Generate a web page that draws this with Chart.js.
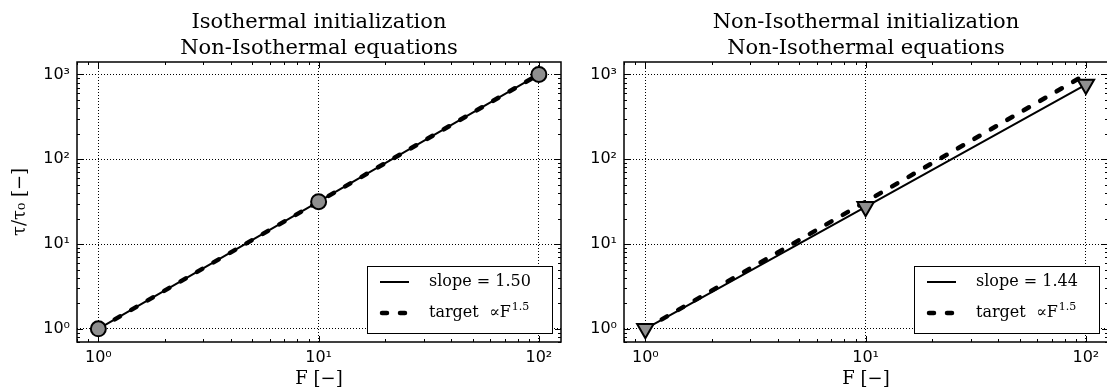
<!DOCTYPE html>
<html>
<head>
<meta charset="utf-8">
<script src="https://cdn.jsdelivr.net/npm/chart.js@4.4.1/dist/chart.umd.min.js"></script>
<style>
html, body { margin: 0; padding: 0; background: #fff; overflow: hidden; }
#wrap { position: relative; width: 1107px; height: 390px; overflow: hidden; }
canvas { position: absolute; top: 0; }
#left { left: 0; }
#right { left: 547px; }
</style>
</head>
<body>
<div id="wrap">
  <canvas id="left" width="580" height="390"></canvas>
  <canvas id="right" width="580" height="390"></canvas>
</div>
<script>
// data
const fValues = [1, 10, 100];
const isoMeasured = [1, 31.6, 1000];
const isoFit = [1, 31.6, 1000];
const isoTarget = [1, 31.6, 1000];
const nonIsoMeasured = [1, 27.5, 760];
const nonIsoFit = [1, 27.5, 760];
const nonIsoTarget = [1, 31.6, 1000];

const xTicks = [1, 10, 100];
const yTicks = [1, 10, 100, 1000];
const xTickLabels = ['10⁰', '10¹', '10²'];
const yTickLabels = ['10⁰', '10¹', '10²', '10³'];

const leftTitle = ['Isothermal initialization', 'Non-Isothermal equations'];
const rightTitle = ['Non-Isothermal initialization', 'Non-Isothermal equations'];
const leftSlopeLabel = 'slope = 1.50';
const rightSlopeLabel = 'slope = 1.44';
const targetLabel = 'target  ∝F^1.5';
const xTitle = 'F [−]';
const yTitle = 'τ/τ₀ [−]';

const SERIF = '"DejaVu Serif", serif';
const SANS = '"DejaVu Sans", sans-serif';
const MARKER_GREY = '#8f8f8f';

// frame, inward ticks, titles and legend (matplotlib classic look)
const decor = {
    id: 'decor',
    afterDraw(chart, args, opts) {
        const { ctx, chartArea: a, scales } = chart;
        const x = scales.x, y = scales.y;
        ctx.save();

        const tickValues = (scale) => {
            const out = [];
            const lo = Math.floor(Math.log10(scale.min));
            const hi = Math.ceil(Math.log10(scale.max));
            for (let d = lo; d <= hi; d++) {
                for (let k = 1; k < 10; k++) {
                    const v = k * Math.pow(10, d);
                    if (v >= scale.min && v <= scale.max) out.push([v, k === 1]);
                }
            }
            return out;
        };

        ctx.strokeStyle = '#000';
        ctx.lineWidth = 1;
        ctx.beginPath();
        tickValues(x).forEach(([v, major]) => {
            const px = Math.round(x.getPixelForValue(v)) + 0.5;
            const len = major ? 6 : 3;
            ctx.moveTo(px, a.bottom); ctx.lineTo(px, a.bottom - len);
            ctx.moveTo(px, a.top); ctx.lineTo(px, a.top + len);
        });
        tickValues(y).forEach(([v, major]) => {
            const py = Math.round(y.getPixelForValue(v)) + 0.5;
            const len = major ? 6 : 3;
            ctx.moveTo(a.left, py); ctx.lineTo(a.left + len, py);
            ctx.moveTo(a.right, py); ctx.lineTo(a.right - len, py);
        });
        ctx.stroke();

        ctx.lineWidth = 1.5;
        ctx.strokeRect(a.left, a.top, a.right - a.left, a.bottom - a.top);

        // two-line title centred over the plot
        const cx = (a.left + a.right) / 2;
        ctx.fillStyle = '#000';
        ctx.font = '21px ' + SERIF;
        ctx.textAlign = 'center';
        ctx.textBaseline = 'alphabetic';
        opts.title.forEach((line, i) => ctx.fillText(line, cx, 28 + i * 26));

        // legend box, lower right
        const bw = 185, bh = 67;
        const bx = a.right - 9 - bw, by = a.bottom - 9 - bh;
        ctx.fillStyle = '#fff';
        ctx.fillRect(bx, by, bw, bh);
        ctx.strokeStyle = '#000';
        ctx.lineWidth = 1;
        ctx.strokeRect(bx + 0.5, by + 0.5, bw, bh);

        const entries = chart.data.datasets.filter(d => d.label);
        entries.forEach((ds, i) => {
            const ly = by + 16 + i * 31;
            ctx.save();
            ctx.strokeStyle = '#000';
            ctx.lineWidth = ds.borderWidth;
            ctx.lineCap = ds.borderDash ? 'round' : 'butt';
            ctx.setLineDash(ds.borderDash ? [5, 13] : []);
            ctx.beginPath();
            if (ds.borderDash) { ctx.moveTo(bx + 15, ly); ctx.lineTo(bx + 41, ly); }
            else { ctx.moveTo(bx + 13, ly); ctx.lineTo(bx + 42, ly); }
            ctx.stroke();
            ctx.restore();

            const parts = ds.label.split('^');
            ctx.fillStyle = '#000';
            ctx.textAlign = 'left';
            ctx.textBaseline = 'middle';
            ctx.font = '16px ' + SERIF;
            ctx.fillText(parts[0], bx + 62, ly);
            if (parts[1]) {
                const w = ctx.measureText(parts[0]).width;
                ctx.font = '11px ' + SERIF;
                ctx.fillText(parts[1], bx + 63 + w, ly - 6);
            }
        });
        ctx.restore();
    }
};

function makeChart(canvasId, measured, fit, target, slopeLabel, title, markerStyle, showYTitle) {
    const toPts = (arr) => fValues.map((f, i) => ({ x: f, y: arr[i] }));
    const triangle = markerStyle === 'triangle';
    return new Chart(document.getElementById(canvasId), {
        type: 'scatter',
        data: {
            datasets: [{
                data: toPts(measured),
                showLine: false,
                pointStyle: markerStyle,
                pointRotation: triangle ? 180 : 0,
                pointRadius: triangle ? 9.5 : 7.5,
                pointBackgroundColor: MARKER_GREY,
                pointBorderColor: '#000',
                pointBorderWidth: 2,
                order: 0
            }, {
                label: slopeLabel,
                data: toPts(fit),
                showLine: true,
                borderColor: '#000',
                borderWidth: 2,
                pointRadius: 0,
                order: 2
            }, {
                label: targetLabel,
                data: toPts(target),
                showLine: true,
                borderColor: '#000',
                borderWidth: 4.5,
                borderDash: [6, 13],
                borderCapStyle: 'round',
                pointRadius: 0,
                order: 1
            }]
        },
        options: {
            responsive: false,
            animation: false,
            layout: { padding: { left: 0, right: 19, top: 62, bottom: 0 } },
            plugins: {
                legend: { display: false },
                tooltip: { enabled: false },
                decor: { title: title }
            },
            scales: {
                x: {
                    type: 'logarithmic',
                    min: 0.8,
                    max: 126,
                    afterBuildTicks: (s) => { s.ticks = xTicks.map(v => ({ value: v })); },
                    afterFit: (s) => { s.height = 48; },
                    ticks: {
                        callback: (v, i) => xTickLabels[i],
                        font: { family: SANS, size: 16 },
                        color: '#000',
                        padding: 6,
                        maxRotation: 0,
                        autoSkip: false
                    },
                    grid: { color: '#000', lineWidth: 1, drawTicks: false },
                    border: { display: false, dash: [1, 2] },
                    title: { display: true, text: xTitle, font: { family: SERIF, size: 18 }, color: '#000', padding: 0 }
                },
                y: {
                    type: 'logarithmic',
                    min: 0.715,
                    max: 1400,
                    afterBuildTicks: (s) => { s.ticks = yTicks.map(v => ({ value: v })); },
                    afterFit: (s) => { s.width = 77; },
                    ticks: {
                        callback: (v, i) => yTickLabels[i],
                        font: { family: SANS, size: 16 },
                        color: '#000',
                        padding: 7,
                        autoSkip: false
                    },
                    grid: { color: '#000', lineWidth: 1, drawTicks: false },
                    border: { display: false, dash: [1, 2] },
                    title: { display: showYTitle, text: yTitle, font: { family: SERIF, size: 18 }, color: '#000', padding: { top: 10, bottom: 0 } }
                }
            }
        },
        plugins: [decor]
    });
}

document.addEventListener('DOMContentLoaded', () => {
    makeChart('left', isoMeasured, isoFit, isoTarget, leftSlopeLabel, leftTitle, 'circle', true);
    makeChart('right', nonIsoMeasured, nonIsoFit, nonIsoTarget, rightSlopeLabel, rightTitle, 'triangle', false);
});
</script>
</body>
</html>
